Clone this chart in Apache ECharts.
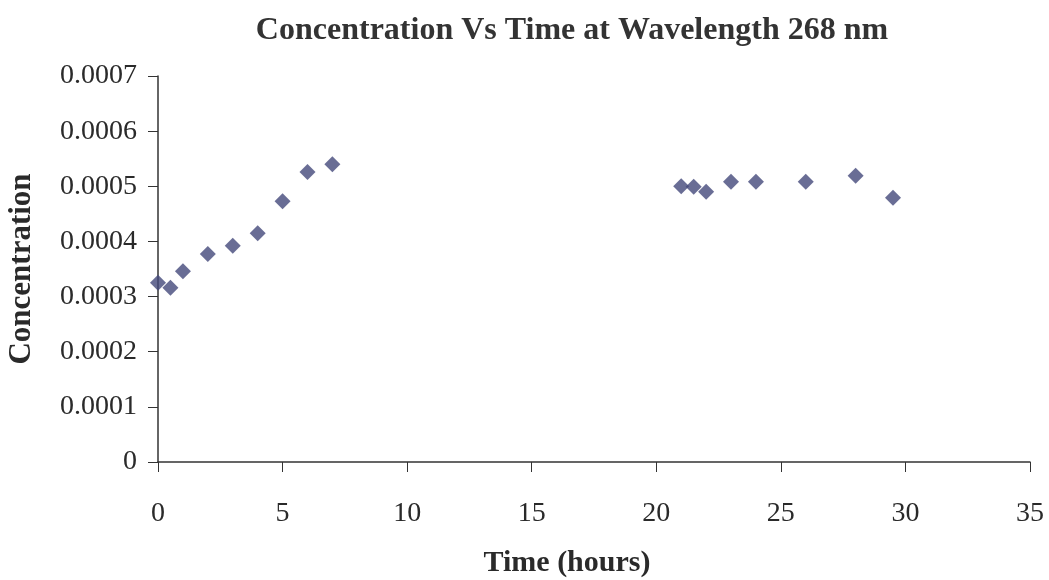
<!DOCTYPE html>
<html><head><meta charset="utf-8">
<script src="https://cdn.jsdelivr.net/npm/echarts@6/dist/echarts.min.js"></script>
<style>html,body{margin:0;padding:0;background:#fff}#c{width:1049px;height:580px}</style>
</head><body><div id="c"></div>
<script>
const timeHours = [0, 0.5, 1, 2, 3, 4, 5, 6, 7, 21, 21.5, 22, 23, 24, 26, 28, 29.5];
const concentration = [0.000325, 0.000316, 0.000346, 0.000377, 0.000392, 0.000415, 0.000473, 0.000526, 0.000540, 0.000500, 0.000499, 0.000490, 0.000508, 0.000508, 0.000508, 0.000519, 0.000479];
const titleText = 'Concentration Vs Time at Wavelength 268 nm';
const xName = 'Time (hours)';
const yName = 'Concentration';

const points = timeHours.map((t, i) => [t, concentration[i]]);
const font = 'Liberation Serif';
const chart = echarts.init(document.getElementById('c'));
chart.setOption({
  animation: false,
  backgroundColor: '#fff',
  title: { text: titleText, left: 567, top: 10, textAlign: 'center',
    textStyle: { fontFamily: font, fontSize: 32, fontWeight: 'bold', color: '#333' } },
  grid: { left: 158, right: 19, top: 76, bottom: 118, outerBoundsMode: 'none', containLabel: false },
  xAxis: {
    type: 'value', min: 0, max: 35, interval: 5,
    name: xName, nameLocation: 'middle', nameGap: 86,
    nameTextStyle: { fontFamily: font, fontSize: 30, fontWeight: 'bold', color: '#2a2a2a',
      padding: [0, 54, 0, 0] },
    axisLine: { lineStyle: { color: '#333', width: 1.5 } },
    axisTick: { show: true, length: 10, lineStyle: { color: '#333' } },
    axisLabel: { fontFamily: font, fontSize: 28, color: '#2a2a2a', margin: 38 },
    splitLine: { show: false }
  },
  yAxis: {
    type: 'value', min: 0, max: 0.0007, interval: 0.0001,
    name: yName, nameLocation: 'middle', nameGap: 121,
    nameTextStyle: { fontFamily: font, fontSize: 31, fontWeight: 'bold', color: '#2a2a2a' },
    axisLine: { show: true, lineStyle: { color: '#333', width: 1.5 } },
    axisTick: { show: true, length: 10, lineStyle: { color: '#333' } },
    axisLabel: { fontFamily: font, fontSize: 28, color: '#2a2a2a', margin: 21,
      formatter: v => v === 0 ? '0' : v.toFixed(4) },
    splitLine: { show: false }
  },
  series: [{
    type: 'scatter', data: points, symbol: 'diamond', symbolSize: 16,
    itemStyle: { color: '#44487a' }
  }]
});
</script></body></html>
